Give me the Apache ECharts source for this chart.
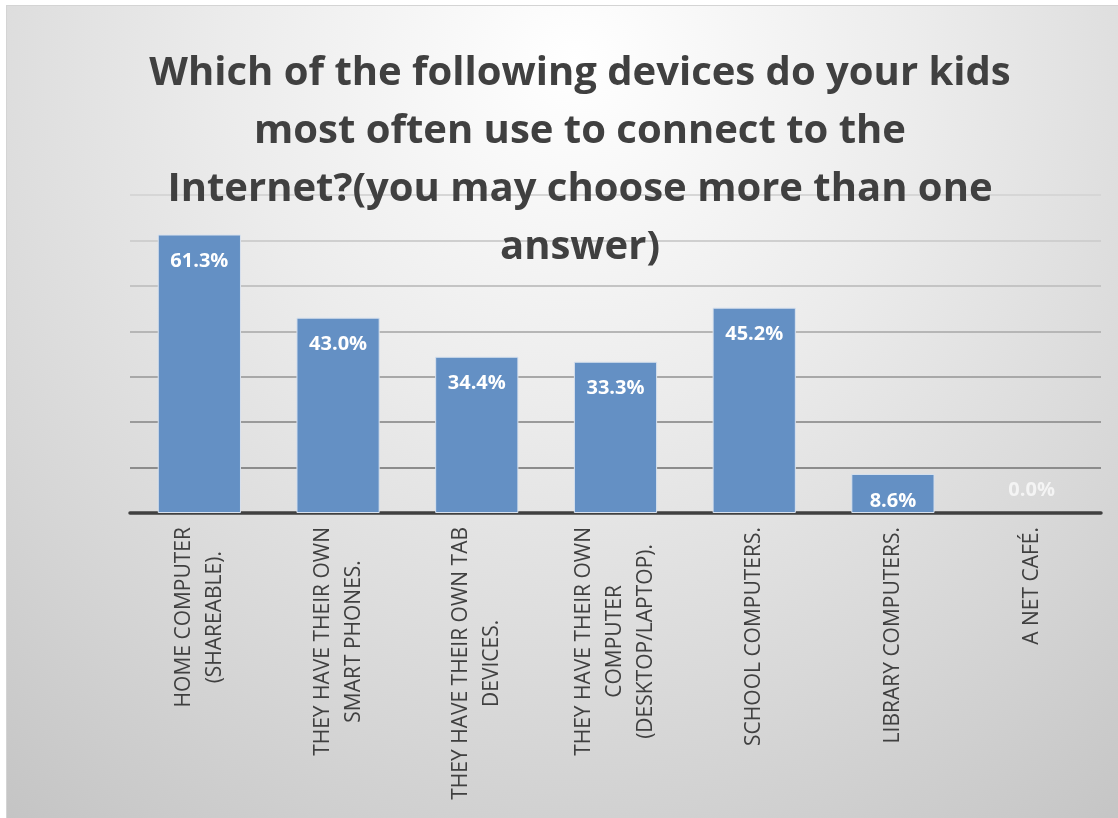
<!DOCTYPE html>
<html>
<head>
<meta charset="utf-8">
<title>Devices kids use to connect to the Internet</title>
<script src="https://cdn.jsdelivr.net/npm/echarts@6/dist/echarts.min.js"></script>
<style>
  html, body { margin: 0; padding: 0; background: #ffffff; overflow: hidden; }
  #chart {
    position: absolute; left: 6px; top: 5px;
    width: 1114px; height: 815px;
    border-left: 1px solid #d4d4d4; border-top: 1px solid #d4d4d4;
  }
</style>
</head>
<body>
<div id="chart"></div>
<script>
// Survey question and answers
const titleText = 'Which of the following devices do your kids\nmost often use to connect to the\nInternet?(you may choose more than one\nanswer)';

const categories = [
  'HOME COMPUTER\n(SHAREABLE).',
  'THEY HAVE THEIR OWN\nSMART PHONES.',
  'THEY HAVE THEIR OWN TAB\nDEVICES.',
  'THEY HAVE THEIR OWN\nCOMPUTER\n(DESKTOP/LAPTOP).',
  'SCHOOL COMPUTERS.',
  'LIBRARY COMPUTERS.',
  'A NET CAFÉ.'
];

// Share of respondents (%) choosing each device
const shares = [61.3, 43.0, 34.4, 33.3, 45.2, 8.6, 0.0];

// Value axis: 0–70 %, one gridline every 10 %
const axisMin = 0;
const axisMax = 70;
const axisStep = 10;

// Gridline shades from the baseline upward (darker near the axis)
const gridShades = ['#8a8a8a', '#8c8c8c', '#9a9a9a', '#a8a8a8', '#b6b6b6', '#c4c4c4', '#cfcfcf', '#d6d6d6'];

const chart = echarts.init(document.getElementById('chart'), null, { renderer: 'canvas' });

const barData = shares.map(function (v) {
  if (v === 0) {
    // an empty bar: no outline, label kept above the axis
    return {
      value: v,
      itemStyle: { borderWidth: 0, color: 'rgba(0,0,0,0)', borderColor: 'rgba(0,0,0,0)' },
      label: { position: 'top', distance: 13, color: '#f4f4f4' }
    };
  }
  return v;
});

chart.setOption({
  backgroundColor: {
    type: 'radial', x: 0.51, y: 0.07, r: 1.2,
    colorStops: [
      { offset: 0, color: '#ffffff' },
      { offset: 0.35, color: '#ececec' },
      { offset: 0.7, color: '#d6d6d6' },
      { offset: 1, color: '#c2c2c2' }
    ]
  },
  animation: false,
  title: {
    text: titleText,
    left: 568, top: 34,
    textAlign: 'center',
    textStyle: {
      fontFamily: 'Open Sans',
      fontWeight: 'bold',
      fontSize: 40,
      lineHeight: 58,
      color: '#404040'
    }
  },
  grid: {
    left: 123, right: 20, top: 189, bottom: 308,
    containLabel: false
  },
  xAxis: {
    type: 'category',
    data: categories,
    axisTick: { show: false },
    axisLine: { show: true, lineStyle: { color: '#404040', width: 3.5 } },
    axisLabel: {
      interval: 0,
      rotate: 90,
      margin: 14,
      color: '#404040',
      fontFamily: 'Open Sans',
      fontSize: 21,
      lineHeight: 31,
      formatter: function (v) {
        return v.split('\n').map(function (s) { return '{c|' + s + '}'; }).join('\n');
      },
      rich: {
        c: { align: 'center', fontFamily: 'Open Sans', fontSize: 21, lineHeight: 31, color: '#404040' }
      }
    }
  },
  yAxis: {
    type: 'value',
    min: axisMin, max: axisMax, interval: axisStep,
    axisLabel: { show: false },
    axisLine: { show: false },
    axisTick: { show: false },
    splitLine: { show: true, lineStyle: { color: gridShades, width: 2 } }
  },
  series: [{
    type: 'bar',
    data: barData,
    barCategoryGap: '40%',
    itemStyle: {
      color: '#6490c4',
      borderColor: '#d9e2ee',
      borderWidth: 1
    },
    label: {
      show: true,
      position: 'insideTop',
      distance: 17,
      color: '#ffffff',
      fontFamily: 'Open Sans',
      fontWeight: 'bold',
      fontSize: 20,
      formatter: function (p) { return p.value.toFixed(1) + '%'; }
    }
  }]
});
</script>
</body>
</html>
